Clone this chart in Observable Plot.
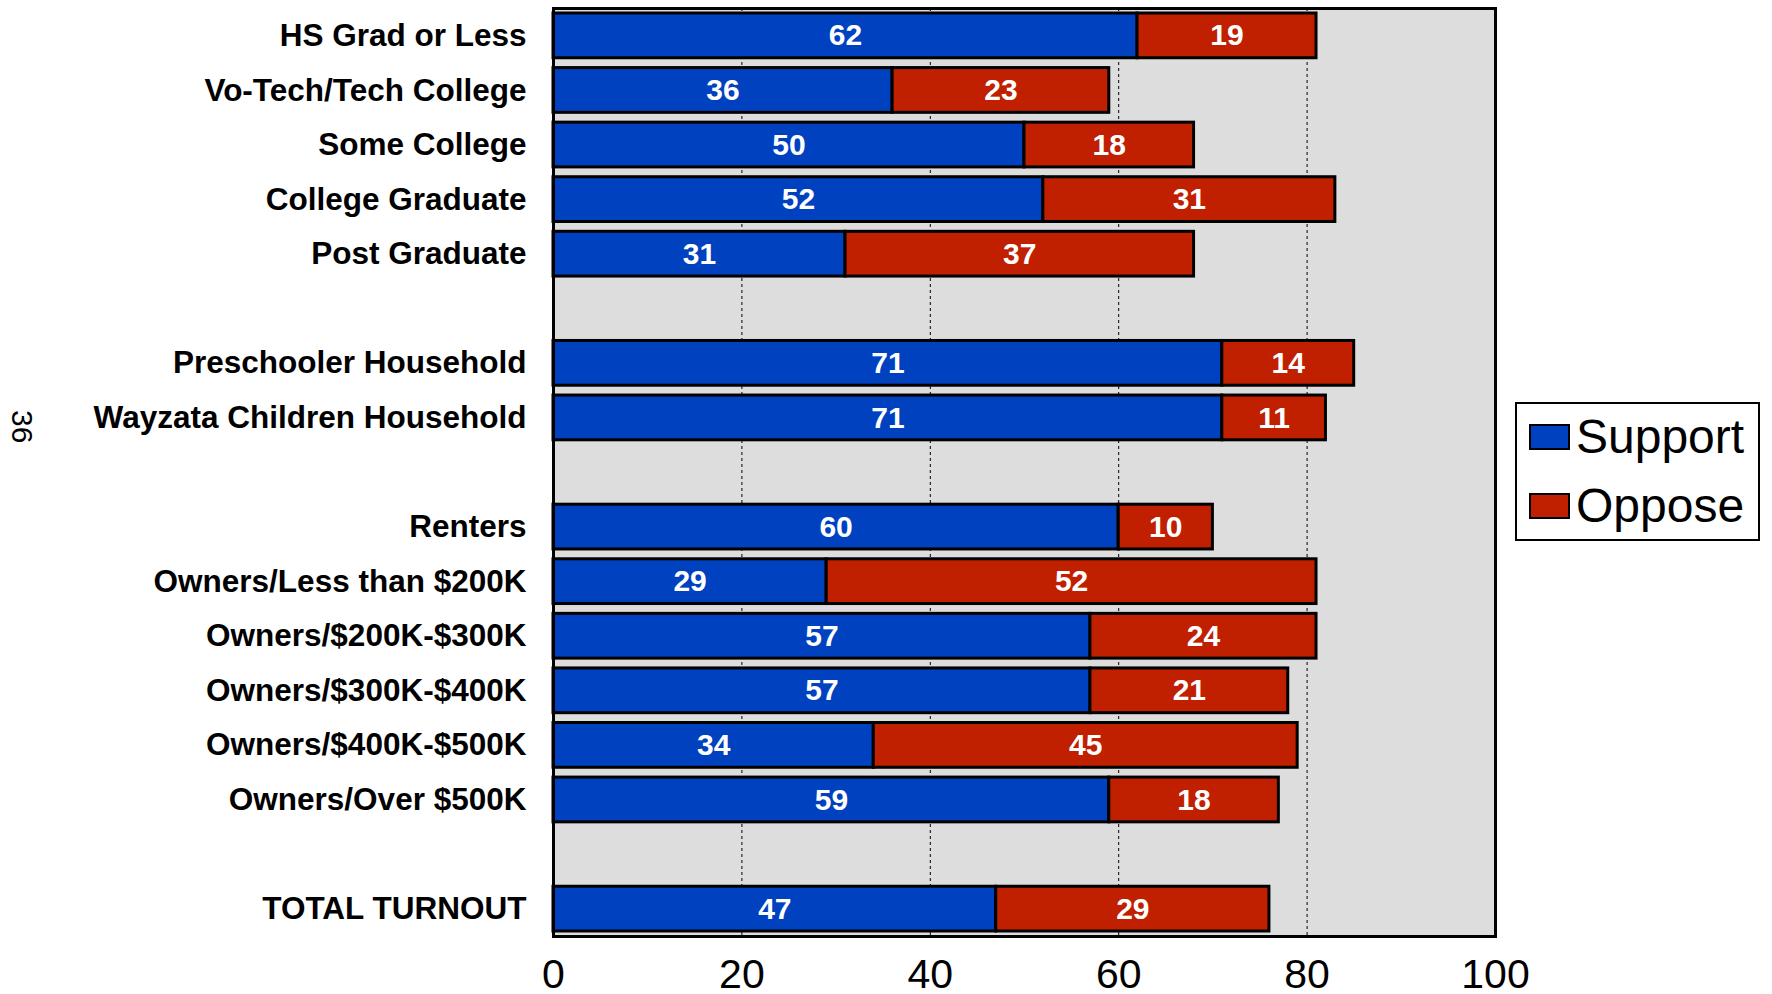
<!DOCTYPE html>
<html>
<head>
<meta charset="utf-8">
<script src="https://cdn.jsdelivr.net/npm/d3@7"></script>
<script src="https://cdn.jsdelivr.net/npm/@observablehq/plot@0.6"></script>
<style>
  html, body { margin: 0; padding: 0; background: #fff; }
  #wrap { position: relative; width: 1772px; height: 994px; font-family: "Liberation Sans", Arial, sans-serif; }
  #legend { position: absolute; left: 1515px; top: 402px; width: 241px; height: 135px; border: 2px solid #000; background: #fff; }
  .lg-row { position: absolute; left: 12px; display: flex; align-items: center; }
  .lg-sw { width: 41px; height: 26px; border: 2px solid #000; box-sizing: border-box; margin-right: 6px; }
  .lg-tx { font-size: 48px; line-height: 1; color: #000; }
  #page { position: absolute; left: 8px; top: 410px; font-size: 30px; line-height: 1; transform-origin: 0 0; transform: translate(29px, 0) rotate(90deg); color: #000; }
</style>
</head>
<body>
<div id="wrap"></div>
<script>
const categories = ["HS Grad or Less", "Vo-Tech/Tech College", "Some College", "College Graduate", "Post Graduate", "__gap1",
  "Preschooler Household", "Wayzata Children Household", "__gap2",
  "Renters", "Owners/Less than $200K", "Owners/$200K-$300K", "Owners/$300K-$400K", "Owners/$400K-$500K", "Owners/Over $500K", "__gap3",
  "TOTAL TURNOUT"];
const support = [62, 36, 50, 52, 31, null, 71, 71, null, 60, 29, 57, 57, 34, 59, null, 47];
const oppose  = [19, 23, 18, 31, 37, null, 14, 11, null, 10, 52, 24, 21, 45, 18, null, 29];
const seriesNames = ["Support", "Oppose"];
const seriesColors = ["#0041C0", "#C02000"];
const xTicks = [0, 20, 40, 60, 80, 100];
const gridTicks = [20, 40, 60, 80];
const pageNumber = "36";

const rows = [];
categories.forEach((c, i) => {
  if (support[i] != null) rows.push({cat: c, series: "Support", value: support[i]});
  if (oppose[i] != null) rows.push({cat: c, series: "Oppose", value: oppose[i]});
});

const font = '"Liberation Sans", Arial, sans-serif';
const chart = Plot.plot({
  width: 1772,
  height: 994,
  marginLeft: 553,
  marginRight: 277,
  marginTop: 8,
  marginBottom: 58,
  style: {fontFamily: font, background: "transparent", overflow: "visible"},
  x: {domain: [0, 100], label: null},
  y: {type: "band", domain: categories, range: [13, 931], paddingInner: 0.18, paddingOuter: 0, round: false, label: null},
  color: {domain: seriesNames, range: seriesColors},
  marks: [
    Plot.frame({fill: "#DDDDDD"}),
    Plot.gridX(gridTicks, {stroke: "#000", strokeOpacity: 1, strokeWidth: 1, strokeDasharray: "3,3"}),
    Plot.barX(rows, Plot.stackX({x: "value", y: "cat", z: "series", fill: "series", stroke: "#000", strokeWidth: 3, order: seriesNames})),
    Plot.text(rows, Plot.stackX({x: "value", y: "cat", z: "series", text: d => String(d.value), fill: "#fff", fontSize: 30, fontWeight: "bold", order: seriesNames})),
    Plot.frame({stroke: "#000", strokeWidth: 3}),
    Plot.axisY({tickSize: 0, tickPadding: 27, fontSize: 31.5, fontWeight: "bold", fill: "#000", label: null,
      tickFormat: d => d.startsWith("__") ? "" : d}),
    Plot.axisX({ticks: xTicks, tickSize: 0, tickPadding: 22, fontSize: 41, fill: "#000", label: null})
  ]
});

const wrap = document.getElementById("wrap");
wrap.appendChild(chart);

const legend = document.createElement("div");
legend.id = "legend";
seriesNames.forEach((s, i) => {
  const row = document.createElement("div");
  row.className = "lg-row";
  row.style.top = (i === 0 ? 9 : 78) + "px";
  const sw = document.createElement("div");
  sw.className = "lg-sw";
  sw.style.background = seriesColors[i];
  const tx = document.createElement("span");
  tx.className = "lg-tx";
  tx.textContent = s;
  row.appendChild(sw);
  row.appendChild(tx);
  legend.appendChild(row);
});
wrap.appendChild(legend);

const page = document.createElement("div");
page.id = "page";
page.textContent = pageNumber;
wrap.appendChild(page);
</script>
</body>
</html>
